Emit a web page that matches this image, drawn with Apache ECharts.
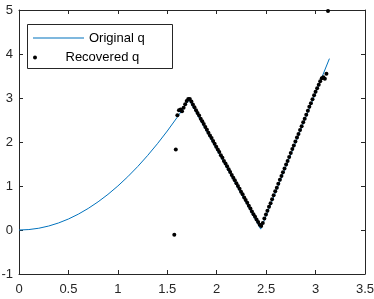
<!DOCTYPE html>
<html><head><meta charset="utf-8">
<script src="https://cdn.jsdelivr.net/npm/echarts@6/dist/echarts.min.js"></script>
<style>html,body{margin:0;padding:0;background:#fff}#c{width:374px;height:299px}</style>
</head><body><div id="c"></div>
<script>
// Original q
const origX = [0,0.1,0.2,0.3,0.4,0.5,0.6,0.7,0.8,0.9,1.0,1.1,1.2,1.3,1.4,1.5,1.6,1.7,1.72,2.445,3.14];
const origY = [0,0.01,0.04,0.09,0.16,0.25,0.36,0.49,0.64,0.81,1.0,1.21,1.44,1.69,1.96,2.25,2.56,2.89,2.96,0.02,3.895];
// Recovered q
const recX = [1.571,1.586,1.602,1.618,1.634,1.649,1.665,1.681,1.696,1.712,1.728,
  1.744,1.759,1.775,1.791,1.806,1.822,1.838,1.854,1.869,1.885,
  1.901,1.916,1.932,1.948,1.964,1.979,1.995,2.011,2.026,2.042,
  2.058,2.073,2.089,2.105,2.121,2.136,2.152,2.168,2.183,2.199,
  2.215,2.231,2.246,2.262,2.278,2.293,2.309,2.325,2.341,2.356,
  2.372,2.388,2.403,2.419,2.435,2.450,2.466,2.482,2.498,2.513,
  2.529,2.545,2.560,2.576,2.592,2.608,2.623,2.639,2.655,2.670,
  2.686,2.702,2.717,2.733,2.749,2.765,2.780,2.796,2.812,2.827,
  2.843,2.859,2.875,2.890,2.906,2.922,2.937,2.953,2.969,2.985,
  3.000,3.016,3.032,3.047,3.063,3.079,3.094,3.110,3.126];
const recY = [-0.11,1.83,2.61,2.72,2.74,2.70,2.78,2.86,2.93,2.98,2.98,
  2.92,2.85,2.79,2.72,2.66,2.60,2.53,2.47,2.41,2.34,
  2.28,2.21,2.15,2.09,2.02,1.96,1.89,1.83,1.77,1.70,
  1.64,1.57,1.51,1.45,1.38,1.32,1.25,1.19,1.13,1.06,
  1.00,0.94,0.87,0.81,0.74,0.68,0.62,0.55,0.49,0.42,
  0.36,0.30,0.24,0.18,0.12,0.09,0.16,0.26,0.35,0.44,
  0.53,0.61,0.70,0.79,0.88,0.96,1.05,1.14,1.23,1.31,
  1.40,1.49,1.57,1.66,1.75,1.84,1.92,2.01,2.10,2.18,
  2.27,2.36,2.45,2.53,2.62,2.71,2.80,2.88,2.97,3.06,
  3.14,3.22,3.30,3.38,3.45,3.47,3.44,3.55,4.98];
const xTicks = [0,0.5,1,1.5,2,2.5,3,3.5];
const yTicks = [-1,0,1,2,3,4,5];

const FONT = "'Liberation Sans', Arial, sans-serif";
const AX = '#262626';
const chart = echarts.init(document.getElementById('c'), null, {renderer:'canvas'});
function axisBase(extra){
  return Object.assign({
    type:'value', splitLine:{show:false},
    axisLine:{show:true, onZero:false, lineStyle:{color:AX, width:1}},
    axisTick:{show:true, inside:true, length:4, lineStyle:{color:AX, width:1}},
    axisLabel:{show:true, color:AX, fontSize:13, fontFamily:FONT}
  }, extra);
}
chart.setOption({
  animation:false,
  grid:{left:19, right:9, top:10, bottom:25, containLabel:false, outerBoundsMode:'none'},
  xAxis:[
    axisBase({position:'bottom', min:xTicks[0], max:xTicks[xTicks.length-1], interval:0.5,
      axisLabel:{color:AX, fontSize:13, fontFamily:FONT, margin:9, formatter:v=>String(v)}}),
    axisBase({position:'top', min:xTicks[0], max:xTicks[xTicks.length-1], interval:0.5,
      axisLabel:{show:false}})
  ],
  yAxis:[
    axisBase({position:'left', min:yTicks[0], max:yTicks[yTicks.length-1], interval:1,
      axisLabel:{color:AX, fontSize:13, fontFamily:FONT, margin:6, formatter:v=>String(v)}}),
    axisBase({position:'right', min:yTicks[0], max:yTicks[yTicks.length-1], interval:1,
      axisLabel:{show:false}})
  ],
  legend:[
    {data:['Original q'], left:33, top:31, padding:0, itemWidth:51, itemHeight:1, itemGap:0,
     icon:'rect', itemStyle:{color:'#0072BD', borderWidth:0},
     textStyle:{fontSize:13, fontFamily:FONT, color:'#000', lineHeight:14}},
    {data:['Recovered q'], left:33, top:50.5, padding:0, itemWidth:51, itemHeight:4, itemGap:0,
     icon:'circle', textStyle:{fontSize:13, fontFamily:FONT, color:'#000', lineHeight:14}}
  ],
  graphic:[{type:'rect', shape:{x:27.5, y:24.5, width:145, height:44},
    style:{fill:'#fff', stroke:AX, lineWidth:1}, z:-1}],
  series:[
    {name:'Original q', type:'line', data:origX.map((x,i)=>[x,origY[i]]), symbol:'none',
     showSymbol:false, lineStyle:{color:'#0072BD', width:1}, itemStyle:{color:'#0072BD'}, z:2},
    {name:'Recovered q', type:'scatter', data:recX.map((x,i)=>[x,recY[i]]), symbol:'circle',
     symbolSize:4, itemStyle:{color:'#000', opacity:1}, z:3}
  ]
});
</script></body></html>
